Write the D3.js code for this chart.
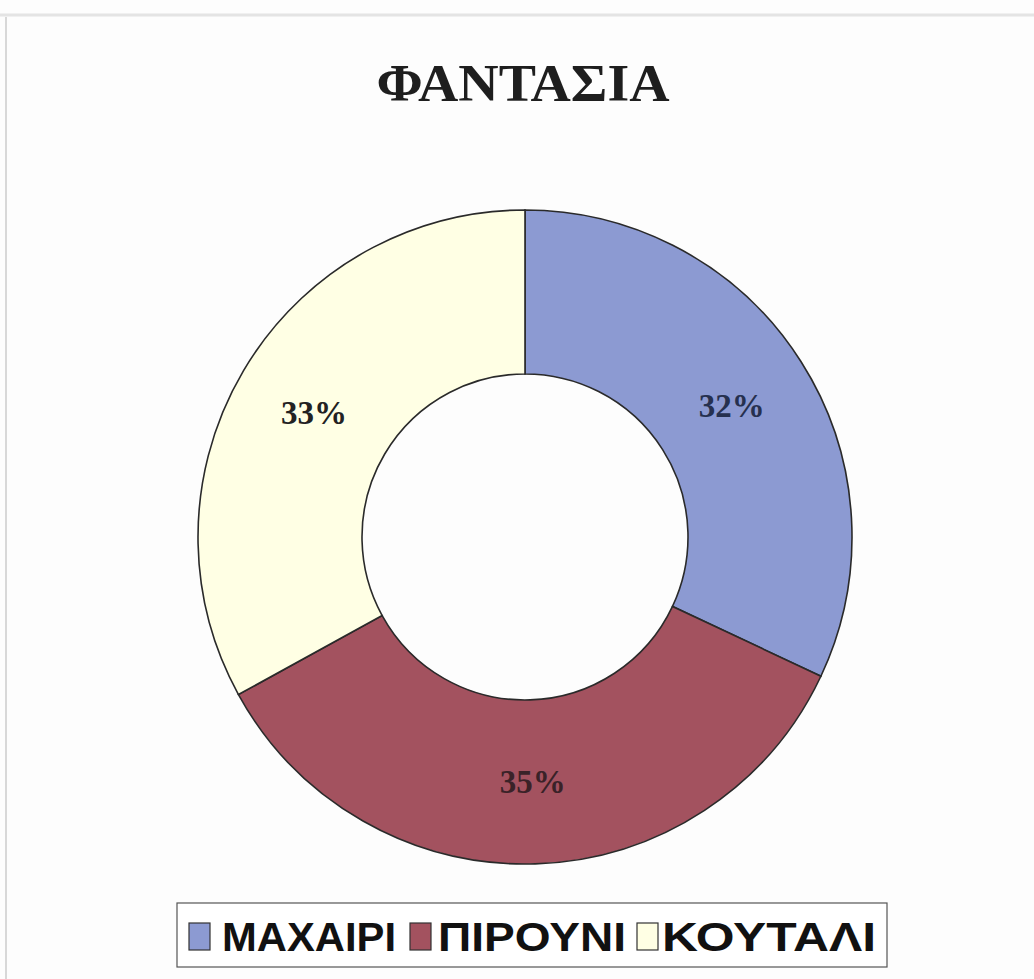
<!DOCTYPE html>
<html>
<head>
<meta charset="utf-8">
<script src="https://cdn.jsdelivr.net/npm/d3@7"></script>
<style>
  html, body { margin: 0; padding: 0; background: #fdfdfd; }
  svg { display: block; }
</style>
</head>
<body>
<svg id="chart" width="1034" height="979"></svg>
<script>
const title = "ΦΑΝΤΑΣΙΑ";
const categories = ["ΜΑΧΑΙΡΙ", "ΠΙΡΟΥΝΙ", "ΚΟΥΤΑΛΙ"];
const values = [32, 35, 33];
const colors = ["#8C9AD2", "#A3525F", "#FFFFE4"];

const svg = d3.select("#chart");
const W = 1034, H = 979;

// frame
svg.append("rect").attr("x", 0).attr("y", 0).attr("width", W).attr("height", H).attr("fill", "#fdfdfd");
svg.append("line").attr("x1", 0).attr("x2", W).attr("y1", 15).attr("y2", 15).attr("stroke", "#e4e4e4").attr("stroke-width", 3);
svg.append("line").attr("x1", 6).attr("x2", 6).attr("y1", 17).attr("y2", H).attr("stroke", "#d8d8d8").attr("stroke-width", 2);

// title
svg.append("text")
  .attr("x", 523).attr("y", 101)
  .attr("text-anchor", "middle")
  .attr("font-family", "Liberation Serif, Times New Roman, serif")
  .attr("font-weight", "bold")
  .attr("font-size", 52)
  .attr("textLength", 293)
  .attr("lengthAdjust", "spacingAndGlyphs")
  .attr("fill", "#1e1e1e")
  .text(title);

const cx = 525, cy = 537, rOuter = 327, rInner = 163;
const pie = d3.pie().sort(null).value(d => d)(values);
const arc = d3.arc().innerRadius(rInner).outerRadius(rOuter);
const g = svg.append("g").attr("transform", `translate(${cx},${cy})`);
g.selectAll("path").data(pie).join("path")
  .attr("d", arc)
  .attr("fill", (d, i) => colors[i])
  .attr("stroke", "#2a2a2a")
  .attr("stroke-width", 1.6);

const total = d3.sum(values);
g.selectAll("text.lbl").data(pie).join("text")
  .attr("class", "lbl")
  .attr("transform", d => `translate(${arc.centroid(d)})`)
  .attr("text-anchor", "middle")
  .attr("dy", "0.35em")
  .attr("font-family", "Liberation Serif, Times New Roman, serif")
  .attr("font-weight", "bold")
  .attr("font-size", 33)
  .attr("fill", (d, i) => i === 1 ? "#3a2228" : (i === 0 ? "#26304f" : "#222"))
  .text(d => Math.round(d.data / total * 100) + "%");

// legend
const lg = svg.append("g");
lg.append("rect").attr("x", 177).attr("y", 903).attr("width", 710).attr("height", 64)
  .attr("fill", "#fff").attr("stroke", "#555").attr("stroke-width", 1.2);
const swX = [189, 410, 637];
const txX = [222, 438, 662];
const legW = [174, 188, 214];
categories.forEach((c, i) => {
  lg.append("rect").attr("x", swX[i]).attr("y", 923).attr("width", 21).attr("height", 27)
    .attr("fill", colors[i]).attr("stroke", "#333").attr("stroke-width", 1.2);
  lg.append("text").attr("x", txX[i]).attr("y", 951)
    .attr("font-family", "Liberation Sans, Arial, sans-serif")
    .attr("font-weight", "bold")
    .attr("font-size", 41)
    .attr("textLength", legW[i])
    .attr("lengthAdjust", "spacingAndGlyphs")
    .attr("fill", "#111")
    .text(c);
});
</script>
</body>
</html>
